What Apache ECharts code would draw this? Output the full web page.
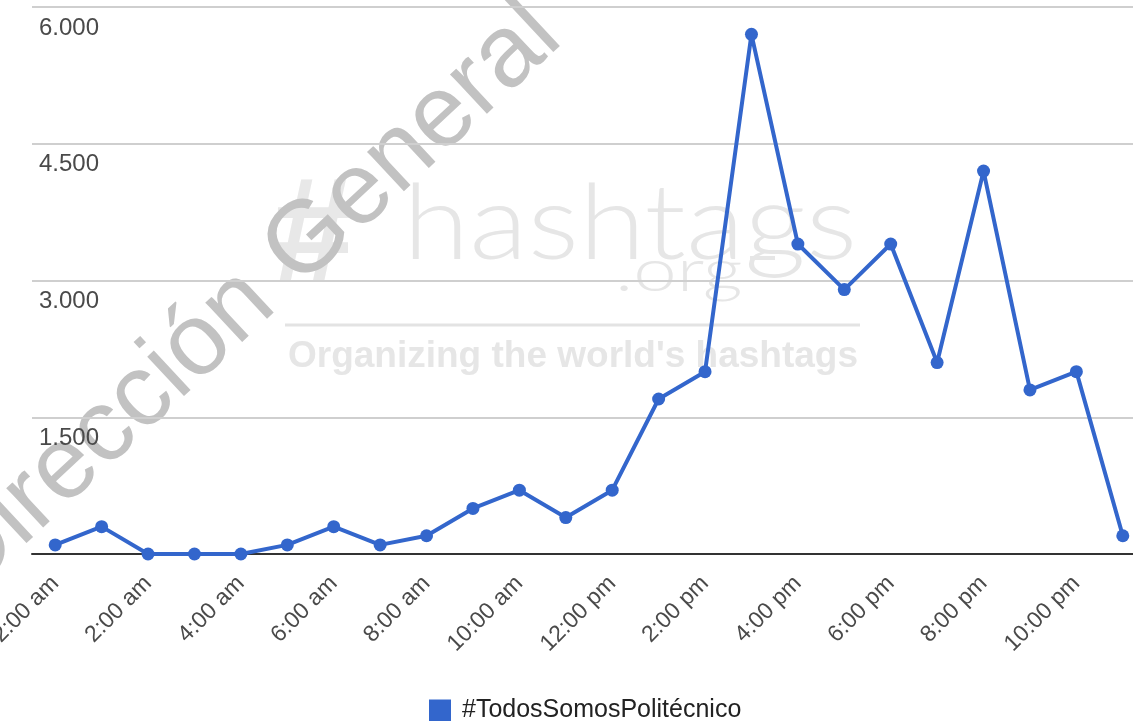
<!DOCTYPE html>
<html>
<head>
<meta charset="utf-8">
<script src="https://cdn.jsdelivr.net/npm/echarts@6/dist/echarts.min.js"></script>
<style>
html,body{margin:0;padding:0;background:#fff;}
#chart{width:1133px;height:721px;}
</style>
</head>
<body>
<div id="chart"></div>
<script>
// horas del día (eje x)
const hours = ['12:00 am','1:00 am','2:00 am','3:00 am','4:00 am','5:00 am','6:00 am','7:00 am',
  '8:00 am','9:00 am','10:00 am','11:00 am','12:00 pm','1:00 pm','2:00 pm','3:00 pm',
  '4:00 pm','5:00 pm','6:00 pm','7:00 pm','8:00 pm','9:00 pm','10:00 pm','11:00 pm'];
// tuits por hora
const tweets = [100,300,0,0,0,100,300,100,200,500,700,400,700,1700,2000,5700,3400,2900,3400,2100,4200,1800,2000,200];
const yTicks = [0,1500,3000,4500,6000];
const seriesName = '#TodosSomosPolitécnico';

function miles(v){
  return String(v).replace(/\B(?=(\d{3})+(?!\d))/g,'.');
}

const myChart = echarts.init(document.getElementById('chart'));
const font = '"Liberation Sans", Arial, sans-serif';

let option = {
  animation:false,
  grid:{left:32, top:7, width:1114, height:547, outerBoundsMode:'none', containLabel:false},
  legend:{
    data:[seriesName],
    left:429, top:698,
    padding:0,
    icon:'rect',
    itemWidth:22, itemHeight:22,
    textStyle:{fontSize:25, color:'#222', fontFamily:font, padding:[0,0,0,6]}
  },
  xAxis:{
    type:'category',
    data:hours,
    axisTick:{show:false},
    axisLine:{lineStyle:{color:'#333', width:2}},
    axisLabel:{interval:1, rotate:45, margin:26, fontSize:23, color:'#4a4a4a', fontFamily:font}
  },
  yAxis:{
    type:'value',
    min:yTicks[0], max:yTicks[yTicks.length-1], interval:yTicks[1]-yTicks[0],
    axisLine:{show:false}, axisTick:{show:false},
    splitLine:{lineStyle:{color:'#cfcfcf', width:2}},
    axisLabel:{
      inside:true, margin:7, showMinLabel:false,
      verticalAlign:'top', lineHeight:24, padding:[9,0,0,0],
      fontSize:24, color:'#4a4a4a', fontFamily:font,
      formatter:miles
    }
  },
  graphic:[
    {type:'text', x:313, y:240, z:-10, style:{text:'#', font:'bold 148px "Liberation Sans", Arial', fill:'#e8e8e8', align:'center', verticalAlign:'middle'}},
    {type:'text', x:403, y:225, z:-10, scaleX:1.16, style:{text:'hashtags', font:'300 104px Lato, sans-serif', fill:'#e6e6e6', align:'left', verticalAlign:'middle'}},
    {type:'text', x:615, y:272, z:-10, scaleX:1.3, style:{text:'.org', font:'300 60px Lato, sans-serif', fill:'#e6e6e6', align:'left', verticalAlign:'middle'}},
    {type:'line', z:-10, shape:{x1:750, y1:258, x2:775, y2:258}, style:{stroke:'#e6e6e6', lineWidth:4}},
    {type:'line', z:-10, shape:{x1:285, y1:325, x2:860, y2:325}, style:{stroke:'#e3e3e3', lineWidth:3}},
    {type:'text', x:288, y:357, z:-10, style:{text:"Organizing the world's hashtags", font:'bold 37px "Liberation Sans", Arial', fill:'#e6e6e6', align:'left', verticalAlign:'middle'}},
    {type:'text', x:247, y:299, z:-5, rotation:43*Math.PI/180, style:{text:'Dirección General', font:'102px "Liberation Sans", Arial', fill:'#c2c2c2', align:'center', verticalAlign:'middle'}}
  ],
  series:[{
    name:seriesName,
    type:'line',
    data:tweets,
    z:5,
    symbol:'circle',
    symbolSize:13,
    color:'#3366cc',
    lineStyle:{width:4, color:'#3366cc'},
    itemStyle:{color:'#3366cc'}
  }]
};

myChart.setOption(option);
</script>
</body>
</html>
